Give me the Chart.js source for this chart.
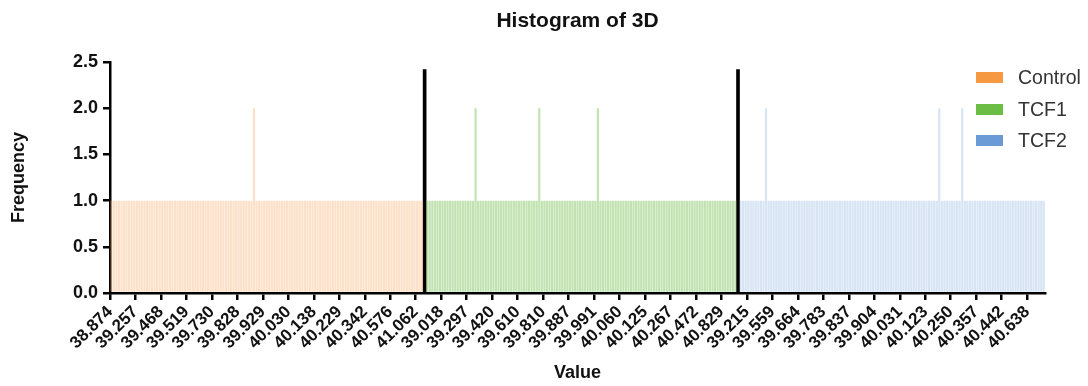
<!DOCTYPE html>
<html>
<head>
<meta charset="utf-8">
<script src="https://cdn.jsdelivr.net/npm/chart.js@4/dist/chart.umd.min.js"></script>
<style>
  body { margin: 0; background: #fff; }
  #wrap { position: relative; width: 1088px; height: 386px; }
  #legend { position: absolute; left: 976px; top: 62px; font-family: "Liberation Sans", Arial, sans-serif; font-size: 19.5px; color: #333; }
  #legend div { height: 31.5px; display: flex; align-items: center; }
  #legend span.box { display: inline-block; width: 27px; height: 11px; margin-right: 15px; }
</style>
</head>
<body>
<div id="wrap">
  <canvas id="histChart" width="1088" height="386"></canvas>
  <div id="legend"></div>
</div>
<script>
// --- DATA ---
const seriesNames = ["Control", "TCF1", "TCF2"];
const seriesColors = ["#f59a43", "#6cbd45", "#6b9bd6"];

// frekuensi per bin
const controlFreq = [
  1,1,1,1,1,1,1,1,1,1,
  1,1,1,1,1,1,1,1,1,1,
  1,1,1,1,1,1,1,1,1,1,
  1,1,1,1,1,1,1,1,1,1,
  1,1,1,1,1,1,1,1,1,1,
  1,1,1,1,1,1,2,1,1,1,
  1,1,1,1,1,1,1,1,1,1,
  1,1,1,1,1,1,1,1,1,1,
  1,1,1,1,1,1,1,1,1,1,
  1,1,1,1,1,1,1,1,1,1,
  1,1,1,1,1,1,1,1,1,1,
  1,1,1,1,1,1,1,1,1,1,
  1,1,1
];
const tcf1Freq = [
  1,1,1,1,1,1,1,1,1,1,
  1,1,1,1,1,1,1,1,1,2,
  1,1,1,1,1,1,1,1,1,1,
  1,1,1,1,1,1,1,1,1,1,
  1,1,1,1,2,1,1,1,1,1,
  1,1,1,1,1,1,1,1,1,1,
  1,1,1,1,1,1,1,2,1,1,
  1,1,1,1,1,1,1,1,1,1,
  1,1,1,1,1,1,1,1,1,1,
  1,1,1,1,1,1,1,1,1,1,
  1,1,1,1,1,1,1,1,1,1,
  1,1,1,1,1,1,1,1,1,1,
  1,1
];
const tcf2Freq = [
  1,1,1,1,1,1,1,1,1,1,
  2,1,1,1,1,1,1,1,1,1,
  1,1,1,1,1,1,1,1,1,1,
  1,1,1,1,1,1,1,1,1,1,
  1,1,1,1,1,1,1,1,1,1,
  1,1,1,1,1,1,1,1,1,1,
  1,1,1,1,1,1,1,1,1,1,
  1,1,1,1,1,1,1,1,2,1,
  1,1,1,1,1,1,1,2,1,1,
  1,1,1,1,1,1,1,1,1,1,
  1,1,1,1,1,1,1,1,1,1,
  1,1,1,1,1,1,1,1,1,1
];
const separatorHeight = 2.42;

// label sumbu x, satu tiap 10 bin
const tickLabels = [
  "38.874","39.257","39.468","39.519","39.730","39.828","39.929","40.030","40.138","40.229","40.342","40.576","41.062",
  "39.018","39.297","39.420","39.610","39.810","39.887","39.991","40.060","40.125","40.267","40.472","40.829",
  "39.215","39.559","39.664","39.783","39.837","39.904","40.031","40.123","40.250","40.357","40.442","40.638"
];
const tickEvery = 10;
const yTicks = [0, 0.5, 1, 1.5, 2, 2.5];

// --- SUSUN DATASET ---
const tcf1Start = controlFreq.length + 1;
const tcf2Start = tcf1Start + tcf1Freq.length + 1;
const totalBins = tcf2Start + tcf2Freq.length;

function toPoints(freq, start) {
  return freq.map((y, i) => ({ x: start + i + 0.5, y: y }));
}

const fontFam = "'Liberation Sans', Arial, sans-serif";

const ctx = document.getElementById("histChart").getContext("2d");
const histChart = new Chart(ctx, {
  type: "bar",
  data: {
    datasets: [
      { label: "Control", data: toPoints(controlFreq, 0), backgroundColor: "rgba(247,160,80,0.32)", grouped: false, barPercentage: 0.85, categoryPercentage: 1 },
      { label: "TCF1", data: toPoints(tcf1Freq, tcf1Start), backgroundColor: "rgba(108,189,69,0.42)", grouped: false, barPercentage: 0.85, categoryPercentage: 1 },
      { label: "TCF2", data: toPoints(tcf2Freq, tcf2Start), backgroundColor: "rgba(107,155,214,0.27)", grouped: false, barPercentage: 0.85, categoryPercentage: 1 },
      {
        label: "sep",
        data: [
          { x: controlFreq.length + 0.5, y: separatorHeight },
          { x: tcf1Start + tcf1Freq.length + 0.5, y: separatorHeight }
        ],
        backgroundColor: "#000", grouped: false, barThickness: 3
      }
    ]
  },
  options: {
    responsive: false,
    animation: false,
    layout: { padding: { top: 0, right: 43, bottom: 0, left: 0 } },
    plugins: {
      legend: { display: false },
      tooltip: { enabled: false },
      title: {
        display: true,
        text: "Histogram of 3D",
        fullSize: false,
        color: "#111",
        font: { family: fontFam, size: 21, weight: "bold" },
        padding: { top: 9, bottom: 28 }
      }
    },
    scales: {
      x: {
        type: "linear",
        min: 0,
        max: totalBins,
        offset: false,
        afterBuildTicks: (axis) => {
          axis.ticks = tickLabels.map((_, i) => ({ value: i * tickEvery }));
        },
        afterFit: (axis) => { axis.height = 93; },
        ticks: {
          autoSkip: false,
          minRotation: 45,
          maxRotation: 45,
          padding: 2,
          color: "#111",
          font: { family: fontFam, size: 17, weight: "bold" },
          callback: (v) => tickLabels[Math.round(v / tickEvery)]
        },
        grid: { drawOnChartArea: false, drawTicks: true, tickLength: 7, color: "#000", lineWidth: 2.5, offset: false },
        border: { color: "#000", width: 2.5 },
        title: { display: true, text: "Value", color: "#111", font: { family: fontFam, size: 18, weight: "bold" }, padding: { top: 0, bottom: 2 } }
      },
      y: {
        min: 0,
        max: 2.5,
        afterBuildTicks: (axis) => {
          axis.ticks = yTicks.map(v => ({ value: v }));
        },
        afterFit: (axis) => { axis.width = 110; },
        ticks: {
          padding: 5,
          color: "#111",
          font: { family: fontFam, size: 18, weight: "bold" },
          callback: (v) => v.toFixed(1)
        },
        grid: { drawOnChartArea: false, drawTicks: true, tickLength: 7, color: "#000", lineWidth: 2.5 },
        border: { color: "#000", width: 2.5 },
        title: { display: true, text: "Frequency", color: "#111", font: { family: fontFam, size: 18, weight: "bold" }, padding: { top: 8, bottom: 0 } }
      }
    }
  }
});

// --- LEGEND HTML ---
const legendBox = document.getElementById("legend");
seriesNames.forEach((name, i) => {
  const row = document.createElement("div");
  const box = document.createElement("span");
  box.className = "box";
  box.style.background = seriesColors[i];
  row.appendChild(box);
  row.appendChild(document.createTextNode(name));
  legendBox.appendChild(row);
});
</script>
</body>
</html>
